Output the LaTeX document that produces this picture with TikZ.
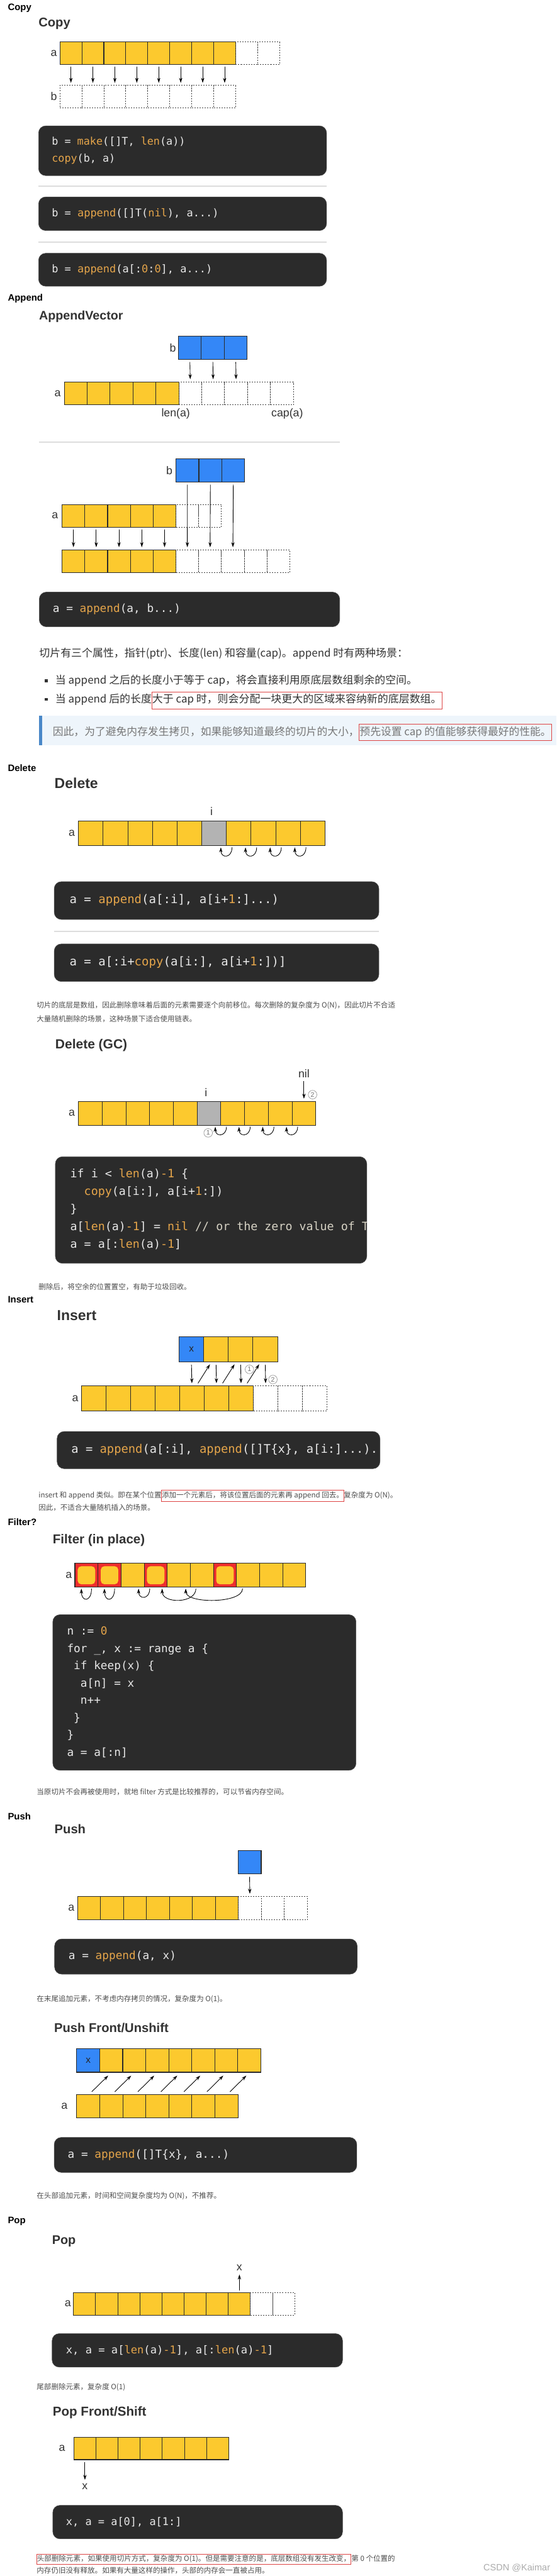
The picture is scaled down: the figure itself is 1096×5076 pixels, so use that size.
\documentclass[tikz,border=0pt]{standalone}
\usepackage{fontspec}
\setmainfont{Liberation Sans}
\newfontfamily\cjk{Noto Sans CJK SC}
\newfontfamily\codef{DejaVu Sans Mono}
\usetikzlibrary{arrows.meta}
\definecolor{yel}{HTML}{FCC92E}
\definecolor{blu}{HTML}{3487F7}
\definecolor{gry}{HTML}{B3B3B3}
\definecolor{redc}{HTML}{EE2D2D}
\definecolor{cline}{HTML}{2A2A2A}
\definecolor{dline}{HTML}{444444}
\definecolor{codebg}{HTML}{2B2B2B}
\definecolor{codefg}{HTML}{E8E8E8}
\definecolor{orng}{HTML}{E5A54A}
\definecolor{cmt}{HTML}{D6D2C4}
\definecolor{sepc}{HTML}{DDDDDD}
\definecolor{ttl}{HTML}{333333}
\definecolor{txt}{HTML}{333333}
\definecolor{stxt}{HTML}{4D4D4D}
\definecolor{qbg}{HTML}{EEF5FB}
\definecolor{qbar}{HTML}{4A88C8}
\definecolor{qtxt}{HTML}{777777}
\definecolor{boxred}{HTML}{DD4444}
\newcommand{\fn}[1]{\textcolor{orng}{#1}}
\newcommand{\fs}[1]{\fontsize{#1}{#1}\selectfont}
\tikzset{
  zs/.style={inner sep=0pt, outer sep=0pt},
  ycell/.style={zs, draw=cline, line width=1.3pt, fill=yel},
  bcell/.style={zs, draw=cline, line width=1.3pt, fill=blu},
  gcell/.style={zs, draw=cline, line width=1.3pt, fill=gry},
  dcell/.style={zs, draw=dline, line width=1.2pt, dash pattern=on 2.5pt off 2.5pt},
  rcell/.style={zs, draw=cline, line width=1.3pt, fill=redc,
    path picture={\fill[yel, rounded corners=7pt] ([shift={(5.5pt,5.5pt)}]path picture bounding box.south west) rectangle ([shift={(-5.5pt,-5.5pt)}]path picture bounding box.north east);}},
  arr/.style={-{Stealth[length=10pt,width=6.5pt]}, line width=1.1pt},
  lbl/.style={zs, font=\fs{22}, text=txt},
  hdr/.style={zs, anchor=base west, font=\fs{18.5}\bfseries, text=black},
  ttlst/.style={zs, anchor=base west, font=\fs{#1}\bfseries, text=ttl},
  codebox/.style={zs, anchor=north west, fill=codebg, rounded corners=14pt, draw=codebg!85!white, line width=0.8pt},
  codetxt/.style={zs, anchor=base west, text=codefg, font=\codef\fs{#1}},
  sepl/.style={draw=sepc, line width=2.5pt},
  ptext/.style={zs, anchor=base west, font=\cjk\fs{#1}, text=txt},
  stext/.style={zs, anchor=base west, font=\cjk\fs{14.3}, text=stxt},
  circ/.style={zs, circle, draw=gray!80, line width=0.9pt, minimum size=17pt, font=\fs{13}, text=gray!90!black},
  bul/.style={zs, fill=txt, minimum size=6pt},
}
\newcommand{\cellrow}[6]{%
  \foreach \s [count=\k from 0] in {#6} {
    \node[\s, minimum width=#4pt, minimum height=#5pt, anchor=north west] (#1\k) at ({#2+\k*#4},#3) {};
  }}
\newcommand{\uarr}[3]{\draw[arr] ([xshift=#2pt,yshift=-3pt]#1) .. controls +(0,#3) and +(0,#3) .. ([xshift=-#2pt,yshift=-3pt]#1);}
\newcommand{\codeboxat}[5]{\node[codebox, minimum width=#4pt, minimum height=#5pt] (#1) at (#2,#3) {};}
\begin{document}
\begin{tikzpicture}[x=1pt,y=-1pt]
\fill[white] (0,0) rectangle (1096,5076);
\useasboundingbox (0,0) rectangle (1096,5076);

% ================= Copy
\node[hdr] (h1) at (15.5,20.7) {Copy};
\node[ttlst=25] (t1) at (76,52.3) {Copy};
\cellrow{ca}{118}{82.7}{43.25}{44}{ycell,ycell,ycell,ycell,ycell,ycell,ycell,ycell,dcell,dcell}
\cellrow{cb}{118}{168.3}{43.25}{44}{dcell,dcell,dcell,dcell,dcell,dcell,dcell,dcell}
\node[lbl, anchor=east] (cal) at ([xshift=-6pt]ca0.west) {a};
\node[lbl, anchor=east] (cbl) at ([xshift=-6pt]cb0.west) {b};
\foreach \k in {0,...,7} \draw[arr] ([yshift=-5pt]ca\k.south) -- ([yshift=5pt]cb\k.north);

\codeboxat{k1}{76}{248}{567}{98}
\node[codetxt=20.8] (k1a) at (102,285.5) {b = \fn{make}([]T, \fn{len}(a))};
\node[codetxt=20.8] (k1b) at (102,318.5) {\fn{copy}(b, a)};
\draw[sepl] (76,366.7) -- (643,366.7);
\codeboxat{k2}{76}{388}{567}{66.3}
\node[codetxt=21] (k2a) at (102,427) {b = \fn{append}([]T(\fn{nil}), a...)};
\draw[sepl] (76,477.3) -- (643,477.3);
\codeboxat{k3}{76}{499}{567}{65}
\node[codetxt=21] (k3a) at (102,537) {b = \fn{append}(a[:\fn{0}:\fn{0}], a...)};

% ================= Append
\node[hdr] (h2) at (15.5,593.5) {Append};
\node[ttlst=24.4] (t2) at (77,630.7) {AppendVector};
\cellrow{va}{351.3}{662.7}{45.2}{45.6}{bcell,bcell,bcell}
\node[lbl, anchor=east] (val) at ([xshift=-5pt]va0.west) {b};
\cellrow{vb}{126.5}{752.3}{45.1}{45.4}{ycell,ycell,ycell,ycell,ycell,dcell,dcell,dcell,dcell,dcell}
\node[lbl, anchor=east] (vbl) at ([xshift=-7pt]vb0.west) {a};
\foreach \k [evaluate=\k as \j using int(\k+5)] in {0,1,2} \draw[arr] ([yshift=-5pt]va\k.south) -- ([yshift=5pt]vb\j.north);
\node[lbl, anchor=north] (lenl) at ([xshift=-6pt,yshift=-7pt]vb5.south west) {len(a)};
\node[lbl, anchor=north] (capl) at ([xshift=-12pt,yshift=-7pt]vb9.south east) {cap(a)};

\draw[sepl] (77.3,871) -- (669.5,871);
\cellrow{wa}{346.4}{904}{45.2}{46}{bcell,bcell,bcell}
\node[lbl, anchor=east] (wal) at ([xshift=-7pt]wa0.west) {b};
\cellrow{wb}{122.2}{994}{44.85}{45}{ycell,ycell,ycell,ycell,ycell,dcell,dcell}
\node[lbl, anchor=east] (wbl) at ([xshift=-8pt]wb0.west) {a};
\cellrow{wc}{122.2}{1083.3}{44.85}{45}{ycell,ycell,ycell,ycell,ycell,dcell,dcell,dcell,dcell,dcell}
\foreach \k in {0,...,4} \draw[arr] ([yshift=-5pt]wb\k.south) -- ([yshift=5pt]wc\k.north);
\foreach \k [evaluate=\k as \j using int(\k+5)] in {0,1,2} \draw[arr] ([yshift=-5pt]wa\k.south) -- ([yshift=5pt]wc\j.north);

\codeboxat{k4}{77.3}{1166.7}{591.5}{68.3}
\node[codetxt=22] (k4a) at (104,1207) {a = \fn{append}(a, b...)};

\node[ptext=21] (p1) at (77.3,1294) {切片有三个属性，指针(ptr)、长度(len) 和容量(cap)。append 时有两种场景：};
\node[bul] (bu1) at (91,1341) {};
\node[ptext=21] (p2) at (109,1348) {当 append 之后的长度小于等于 cap，将会直接利用原底层数组剩余的空间。};
\node[bul] (bu2) at (91,1378) {};
\node[ptext=21] (p3a) at (109,1385) {当 append 后的长度};
\node[ptext=21, draw=boxred, line width=1pt, inner xsep=1pt, inner ysep=6pt, text height=15pt, text depth=6pt] (p3b) at (p3a.base east) {大于 cap 时，则会分配一块更大的区域来容纳新的底层数组。};

\fill[qbg] (77.3,1410) rectangle (1096,1469);
\fill[qbar] (77.3,1410) rectangle (82.5,1469);
\node[ptext=20.8, text=qtxt] (q1a) at (104,1449) {因此，为了避免内存发生拷贝，如果能够知道最终的切片的大小，};
\node[ptext=20.8, text=qtxt, draw=boxred, line width=1pt, inner xsep=1pt, inner ysep=7pt, text height=15pt, text depth=3pt] (q1b) at (q1a.base east) {预先设置 cap 的值能够获得最好的性能。};

% ================= Delete
\node[hdr] (h3) at (15.5,1520) {Delete};
\node[ttlst=28.5] (t3) at (107.5,1553.3) {Delete};
\cellrow{da}{154.6}{1617.7}{48.54}{49}{ycell,ycell,ycell,ycell,ycell,gcell,ycell,ycell,ycell,ycell}
\node[lbl, anchor=east] (dal) at ([xshift=-7pt]da0.west) {a};
\node[lbl, anchor=south] (dil) at ([xshift=-5pt,yshift=11pt]da5.north) {i};
\foreach \k in {6,...,9} {\uarr{da\k.south west}{11}{22}}

\codeboxat{k5}{106.8}{1737.3}{639.2}{74.4}
\node[codetxt=23.6] (k5a) at (137,1780.5) {a = \fn{append}(a[:i], a[i+\fn{1}:]...)};
\draw[sepl] (106.8,1835.3) -- (746,1835.3);
\codeboxat{k6}{106.8}{1860}{639.2}{74}
\node[codetxt=23.6] (k6a) at (137,1903) {a = a[:i+\fn{copy}(a[i:], a[i+\fn{1}:])]};

\node[stext] (s1) at (72.4,1986.5) {切片的底层是数组，因此删除意味着后面的元素需要逐个向前移位。每次删除的复杂度为 O(N)，因此切片不合适};
\node[stext] (s2) at (72.4,2013) {大量随机删除的场景，这种场景下适合使用链表。};

% ================= Delete (GC)
\node[ttlst=26] (t4) at (109,2066.7) {Delete (GC)};
\cellrow{ga}{154.6}{2170}{46.72}{47.3}{ycell,ycell,ycell,ycell,ycell,gcell,ycell,ycell,ycell,ycell}
\node[lbl, anchor=east] (gal) at ([xshift=-7pt]ga0.west) {a};
\node[lbl, anchor=south] (gil) at ([xshift=-6pt,yshift=10pt]ga5.north) {i};
\node[lbl, anchor=south] (gnil) at ([yshift=47pt]ga9.north) {nil};
\draw[arr] ([yshift=-7pt]gnil.south) -- ([yshift=5pt]ga9.north);
\node[circ] (gc2) at ([xshift=17pt,yshift=13pt]ga9.north) {2};
\node[circ] (gc1) at ([xshift=-25pt,yshift=-15pt]ga5.south east) {1};
\foreach \k in {6,...,9} {\uarr{ga\k.south west}{11}{20}}

\codeboxat{k7}{109}{2279.3}{613.2}{210}
\begin{scope}
\clip[rounded corners=14pt] (k7.south west) rectangle (k7.north east);
\node[codetxt=22.7] (k7a) at (138.4,2320.3) {if i < \fn{len}(a)\fn{-1} \{};
\node[codetxt=22.7] (k7b) at (138.4,2355.3) {~~\fn{copy}(a[i:], a[i+\fn{1}:])};
\node[codetxt=22.7] (k7c) at (138.4,2389.7) {\}};
\node[codetxt=22.7] (k7d) at (138.4,2424.3) {a[\fn{len}(a)\fn{-1}] = \fn{nil} \textcolor{cmt}{// or the zero value of T}};
\node[codetxt=22.7] (k7e) at (138.4,2459.7) {a = a[:\fn{len}(a)\fn{-1}]};
\end{scope}

\node[stext] (s3) at (76,2541.5) {删除后，将空余的位置置空，有助于垃圾回收。};

% ================= Insert
\node[hdr] (h4) at (15.5,2566.7) {Insert};
\node[ttlst=28.5] (t5) at (112.4,2601.7) {Insert};
\cellrow{ia}{352.7}{2634.3}{48.48}{49}{bcell,ycell,ycell,ycell}
\node[zs, font=\fs{19}, text=black!85] (ix) at (ia0) {x};
\cellrow{ib}{160.2}{2730.7}{48.37}{49.3}{ycell,ycell,ycell,ycell,ycell,ycell,ycell,dcell,dcell,dcell}
\node[lbl, anchor=east] (ibl) at ([xshift=-6pt]ib0.west) {a};
\foreach \k [evaluate=\k as \j using int(\k+4)] in {0,...,3} \draw[arr] ([yshift=-6pt]ia\k.south) -- ([yshift=5pt]ib\j.north);
\foreach \k [evaluate=\k as \j using int(\k+3)] in {1,2,3} \draw[arr] ([xshift=12pt,yshift=5pt]ib\j.north) -- ([xshift=-12pt,yshift=-5pt]ia\k.south);
\node[circ] (ic1) at ([xshift=-7pt,yshift=-15pt]ia3.south west) {1};
\node[circ] (ic2) at ([xshift=15pt,yshift=-35pt]ia3.south) {2};

\codeboxat{k8}{112.4}{2820.7}{635.8}{73.3}
\begin{scope}
\clip[rounded corners=14pt] (k8.south west) rectangle (k8.north east);
\node[codetxt=23.3] (k8a) at (140.5,2863.7) {a = \fn{append}(a[:i], \fn{append}([]T\{x\}, a[i:]...)...)};
\end{scope}

\node[stext] (s4a) at (76,2951.5) {insert 和 append 类似。即在某个位置};
\node[stext, draw=boxred, line width=0.9pt, inner xsep=0.5pt, inner ysep=4pt, text height=11pt, text depth=3pt] (s4b) at (s4a.base east) {添加一个元素后，将该位置后面的元素再 append 回去。};
\node[stext] (s4c) at (s4b.base east) {复杂度为 O(N)。};
\node[stext] (s5) at (76,2976.5) {因此，不适合大量随机插入的场景。};

% ================= Filter
\node[hdr] (h5) at (15.5,3006) {Filter?};
\node[ttlst=25.5] (t6) at (104,3042.3) {Filter (in place)};
\cellrow{fa}{147.5}{3080.7}{45.45}{46.6}{rcell,rcell,ycell,rcell,ycell,ycell,rcell,ycell,ycell,ycell}
\node[lbl, anchor=east] (fal) at ([xshift=-6pt]fa0.west) {a};
\uarr{fa0.south}{10}{27}
\uarr{fa1.south}{10}{27}
\uarr{fa3.south west}{11}{22}
\draw[arr] ([xshift=11pt,yshift=-3pt]fa5.south west) .. controls +(0,30) and +(0,30) .. ([xshift=-10pt,yshift=-3pt]fa4.south west);
\draw[arr] ([xshift=12pt,yshift=-3pt]fa7.south west) .. controls +(0,30) and +(0,30) .. ([xshift=-9pt,yshift=-3pt]fa5.south west);

\codeboxat{k9}{104}{3181.7}{597}{306.6}
\node[codetxt=22] (k9a) at (132,3222) {n := \fn{0}};
\node[codetxt=22] (k9b) at (132,3256) {for \_, x := range a \{};
\node[codetxt=22] (k9c) at (132,3290) {~if keep(x) \{};
\node[codetxt=22] (k9d) at (132,3324) {~~a[n] = x};
\node[codetxt=22] (k9e) at (132,3358) {~~n++};
\node[codetxt=22] (k9f) at (132,3392) {~\}};
\node[codetxt=22] (k9g) at (132,3426) {\}};
\node[codetxt=22] (k9h) at (132,3460) {a = a[:n]};

\node[stext] (s6) at (72.4,3536.5) {当原切片不会再被使用时，就地 filter 方式是比较推荐的，可以节省内存空间。};

% ================= Push
\node[hdr] (h6) at (15.5,3586) {Push};
\node[ttlst=25] (t7) at (107.5,3613.3) {Push};
\node[bcell, minimum width=45.7pt, minimum height=46pt, anchor=north west] (pb) at (468.6,3646.7) {};
\cellrow{pa}{152.5}{3736.7}{45.26}{46}{ycell,ycell,ycell,ycell,ycell,ycell,ycell,dcell,dcell,dcell}
\node[lbl, anchor=east] (pal) at ([xshift=-6pt]pa0.west) {a};
\draw[arr] ([yshift=-5.6pt]pb.south) -- ([yshift=5pt]pa7.north);

\codeboxat{k10}{107.5}{3820.7}{595.8}{69.3}
\node[codetxt=22] (k10a) at (135,3861) {a = \fn{append}(a, x)};
\node[stext] (s7) at (72.4,3944) {在末尾追加元素，不考虑内存拷贝的情况，复杂度为 O(1)。};

% ================= Push Front
\node[ttlst=25] (t8) at (106.8,4004) {Push Front/Unshift};
\cellrow{ua}{151}{4036.7}{45.33}{46.6}{bcell,ycell,ycell,ycell,ycell,ycell,ycell,ycell}
\node[zs, font=\fs{19}, text=black!85] (ux) at (ua0) {x};
\cellrow{ub}{151}{4127.3}{45.37}{46}{ycell,ycell,ycell,ycell,ycell,ycell,ycell}
\node[lbl, anchor=east] (ubl) at ([xshift=-18pt]ub0.west) {a};
\foreach \k [evaluate=\k as \j using int(\k+1)] in {0,...,6} \draw[arr] ([xshift=7pt,yshift=5.6pt]ub\k.north) -- ([xshift=-6pt,yshift=-6.7pt]ua\j.south);

\codeboxat{k11}{106.8}{4211.7}{595.7}{69}
\node[codetxt=22] (k11a) at (133.5,4252) {a = \fn{append}([]T\{x\}, a...)};
\node[stext] (s8) at (72.4,4331.5) {在头部追加元素，时间和空间复杂度均为 O(N)，不推荐。};

% ================= Pop
\node[hdr] (h7) at (15.5,4381.7) {Pop};
\node[ttlst=24.6] (t9) at (102.6,4421.7) {Pop};
\cellrow{qa}{144.7}{4517.3}{43.56}{44.4}{ycell,ycell,ycell,ycell,ycell,ycell,ycell,ycell,dcell,dcell}
\node[lbl, anchor=east] (qal) at ([xshift=-5pt]qa0.west) {a};
\node[lbl] (qx) at ([yshift=49.3pt]qa7.north) {x};
\draw[arr] ([yshift=4pt]qa7.north) -- ([yshift=-8pt]qx.south);

\codeboxat{k12}{102.6}{4598.3}{571.9}{66}
\node[codetxt=21.2] (k12a) at (130,4638) {x, a = a[\fn{len}(a)\fn{-1}], a[:\fn{len}(a)\fn{-1}]};
\node[stext] (s9) at (72.4,4708) {尾部删除元素，复杂度 O(1)};

% ================= Pop Front
\node[ttlst=25.5] (t10) at (104,4760) {Pop Front/Shift};
\cellrow{ra}{145.4}{4802.3}{43.56}{44.4}{ycell,ycell,ycell,ycell,ycell,ycell,ycell}
\node[lbl, anchor=east] (ral) at ([xshift=-17pt]ra0.west) {a};
\node[lbl] (rx) at ([yshift=-52.6pt]ra0.south) {x};
\draw[arr] ([yshift=-5pt]ra0.south) -- ([yshift=7pt]rx.north);

\codeboxat{k13}{104}{4936.7}{570.5}{66}
\node[codetxt=21] (k13a) at (130,4976) {x, a = a[0], a[1:]};

\node[stext, draw=boxred, line width=0.9pt, inner xsep=0.5pt, inner ysep=2.7pt, text height=11pt, text depth=3pt] (s10a) at (72.4,5047) {头部删除元素，如果使用切片方式，复杂度为 O(1)。但是需要注意的是，底层数组没有发生改变，};
\node[stext] (s10b) at ([xshift=1pt]s10a.base east) {第 0 个位置的};
\node[stext] (s11) at (72.4,5070) {内存仍旧没有释放。如果有大量这样的操作，头部的内存会一直被占用。};
\node[zs, anchor=base west, font=\fs{18}, text=gray!65] (wm) at (952,5065) {CSDN @Kaimar};
\end{tikzpicture}
\end{document}
